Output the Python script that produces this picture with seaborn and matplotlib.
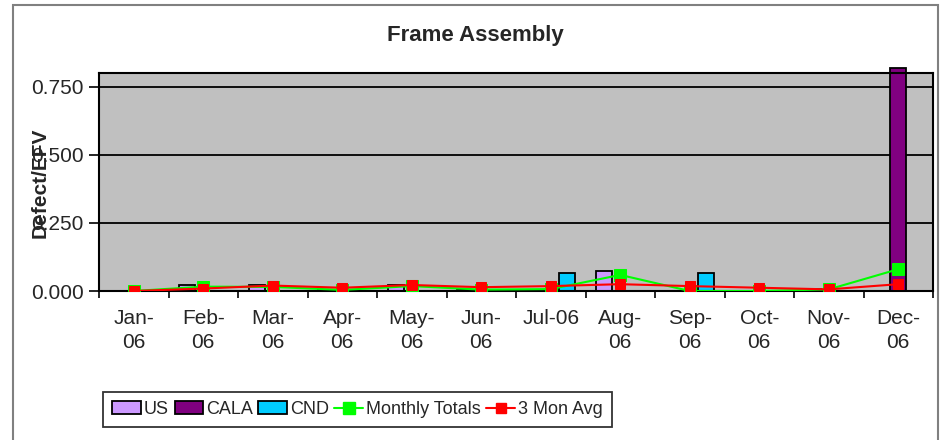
import numpy as np
import pandas as pd
import matplotlib
matplotlib.use('Agg')
import matplotlib.pyplot as plt
from matplotlib.patches import Patch, Rectangle
from matplotlib.lines import Line2D
from matplotlib.ticker import FormatStrFormatter, FixedLocator
import seaborn as sns

sns.set_theme(style="white")
plt.rcParams['font.family'] = ['Liberation Sans', 'DejaVu Sans']

#%% data
months = ["Jan-06", "Feb-06", "Mar-06", "Apr-06", "May-06", "Jun-06",
          "Jul-06", "Aug-06", "Sep-06", "Oct-06", "Nov-06", "Dec-06"]
monthLabels = ["Jan-\n06", "Feb-\n06", "Mar-\n06", "Apr-\n06", "May-\n06", "Jun-\n06",
               "Jul-06", "Aug-\n06", "Sep-\n06", "Oct-\n06", "Nov-\n06", "Dec-\n06"]
regions = ["US", "CALA", "CND"]

us = [0, 0.022, 0.022, 0.003, 0.022, 0.005, 0.003, 0.072, 0, 0, 0.009, 0]
cala = [0, 0, 0, 0, 0, 0, 0, 0, 0, 0, 0, 0.82]
cnd = [0, 0, 0, 0, 0, 0, 0.066, 0, 0.066, 0, 0, 0]
monthly = [0, 0.016, 0.015, 0.004, 0.018, 0.005, 0.007, 0.059, 0, 0, 0.006, 0.08]
avg3 = [0, 0.009, 0.020, 0.012, 0.022, 0.014, 0.018, 0.025, 0.018, 0.012, 0.006, 0.025]

yticks = [0, 0.25, 0.5, 0.75]

colors = {"US": '#CC99FF', "CALA": '#800080', "CND": '#00CCFF'}
green = '#00FF00'
red = '#FF0000'

#%%
rows = []
for reg, vals in zip(regions, [us, cala, cnd]):
    for m, v in zip(months, vals):
        rows.append({"month": m, "region": reg, "value": v})
df = pd.DataFrame(rows)

fig = plt.figure(figsize=(9.42, 4.40), dpi=100)
ax = fig.add_axes([99/942, 1-291/440, (933-99)/942, (291-73)/440])
ax.set_facecolor('#C0C0C0')
ax.set_axisbelow(True)

sns.barplot(data=df, x="month", y="value", hue="region", order=months,
            hue_order=regions, palette=colors, width=0.69, saturation=1,
            edgecolor='black', linewidth=1.3, errorbar=None, legend=False, ax=ax)

# the big CALA bar pokes a bit above the plot area like in excel
ax.patches[len(months)*2 - 1].set_clip_on(False)

xpos = np.arange(len(months))
sns.lineplot(x=xpos, y=monthly, color=green, marker='s', markersize=9,
             markeredgecolor=green, linewidth=1.5, ax=ax, zorder=4)
sns.lineplot(x=xpos, y=avg3, color=red, marker='s', markersize=7.5,
             markeredgecolor=red, linewidth=1.5, ax=ax, zorder=5)

ax.set_xlim(-0.5, len(months)-0.5)
ax.set_ylim(0, 0.8)
ax.set_yticks(yticks)
ax.yaxis.set_major_formatter(FormatStrFormatter('%.3f'))
ax.yaxis.grid(True, color='black', linewidth=1.3)
ax.xaxis.grid(False)

ax.set_xticks(xpos)
ax.set_xticklabels(monthLabels, fontsize=15)
ax.xaxis.set_minor_locator(FixedLocator(np.arange(len(months)+1)-0.5))
ax.tick_params(axis='x', which='major', length=0, pad=13)
ax.tick_params(axis='x', which='minor', length=5, width=1.2, color='black', direction='out', bottom=True)
ax.tick_params(axis='y', length=7, width=1.2, color='black', direction='out', left=True, labelsize=15, pad=4)
for lab in ax.get_xticklabels():
    lab.set_linespacing(1.35)
ax.set_xlabel("")
ax.set_ylabel("")
for sp in ax.spines.values():
    sp.set_color('black')
    sp.set_linewidth(1.5)

fig.text(475/942, 1-36/440, "Frame Assembly", fontsize=16, fontweight='bold',
         ha='center', va='center')
fig.text(40/942, 1-183/440, "Defect/EFV", fontsize=15, fontweight='bold',
         rotation=90, ha='center', va='center')

handles = [Patch(facecolor=colors[r], edgecolor='black', linewidth=1.3, label=r) for r in regions]
handles.append(Line2D([], [], color=green, marker='s', markersize=9, linewidth=1.5, label="Monthly Totals"))
handles.append(Line2D([], [], color=red, marker='s', markersize=7.5, linewidth=1.5, label="3 Mon Avg"))
leg = fig.legend(handles=handles, loc='center', bbox_to_anchor=(357.5/942, 1-409.5/440),
                 ncol=5, fontsize=13, frameon=True, fancybox=False, handlelength=1.6,
                 handletextpad=0.15, columnspacing=0.3, borderpad=0.5, borderaxespad=0,
                 numpoints=1)
leg.get_frame().set_edgecolor('black')
leg.get_frame().set_linewidth(1.3)

fig.patches.append(Rectangle((13/942, -0.02), (938-13)/942, 1.02-5/440, transform=fig.transFigure,
                             fill=False, edgecolor='#808080', linewidth=1.5))

fig.savefig('out.png', dpi=100)
